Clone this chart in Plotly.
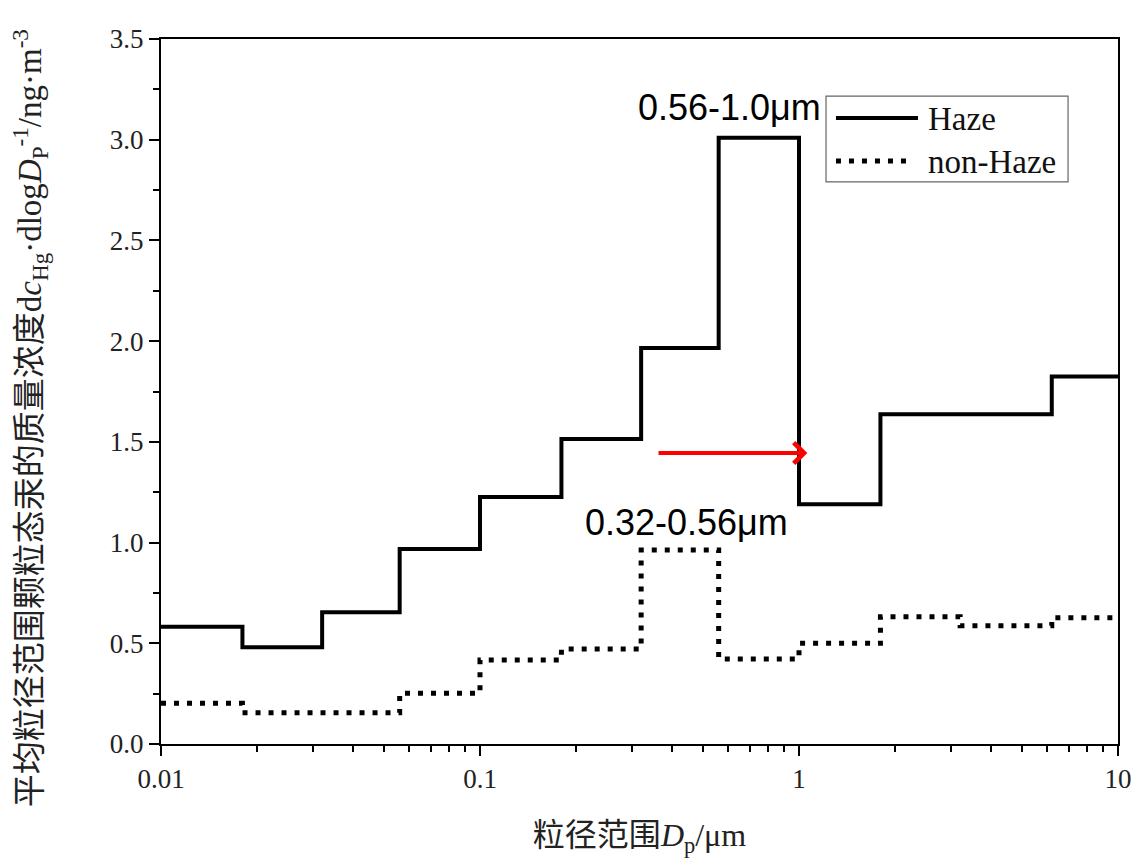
import plotly.graph_objects as go

# Size-bin edges (µm) of the cascade impactor stages
bin_edges = [0.01, 0.018, 0.032, 0.056, 0.1, 0.18, 0.32, 0.56, 1.0, 1.8, 3.2, 6.2, 10]

# dc_Hg/dlogDp per bin (ng·m^-3)
haze = [0.582, 0.480, 0.654, 0.968, 1.226, 1.514, 1.966, 3.010, 1.190, 1.637, 1.637, 1.824]
non_haze = [0.202, 0.155, 0.155, 0.252, 0.417, 0.472, 0.963, 0.422, 0.500, 0.632, 0.587, 0.627]

series_names = ["Haze", "non-Haze"]

y_ticks = [0.0, 0.5, 1.0, 1.5, 2.0, 2.5, 3.0, 3.5]
x_ticks = [0.01, 0.1, 1, 10]
x_tick_labels = ["0.01", "0.1", "1", "10"]
x_minor = [k * 10.0 ** e for e in (-2, -1, 0) for k in range(2, 10)]

SERIF = "Liberation Serif, Times New Roman, serif"
SANS = "Liberation Sans, Arial, sans-serif"
TITLE_FONT = "Liberation Serif, Noto Sans CJK SC, serif"

HAZE_STYLE = dict(color="black", width=4)
NON_HAZE_STYLE = dict(color="black", width=5, dash="5px,8px")


def step_y(values):
    # repeat the last level so the 'hv' step reaches the final edge
    return values + [values[-1]]


fig = go.Figure()
fig.add_trace(go.Scatter(
    x=bin_edges, y=step_y(haze), name=series_names[0], mode="lines",
    line=dict(shape="hv", **HAZE_STYLE), showlegend=False,
))
fig.add_trace(go.Scatter(
    x=bin_edges, y=step_y(non_haze), name=series_names[1], mode="lines",
    line=dict(shape="hv", **NON_HAZE_STYLE), showlegend=False,
))

# labels for the peak bins
fig.add_annotation(x=-0.217, y=3.158, xref="x", yref="y", text="0.56-1.0μm",
                   showarrow=False, font=dict(family=SANS, size=36, color="black"))
fig.add_annotation(x=-0.353, y=1.10, xref="x", yref="y", text="0.32-0.56μm",
                   showarrow=False, font=dict(family=SANS, size=36, color="black"))

# red arrow marking the shift of the peak
fig.add_annotation(x=0.026, y=1.445, ax=-0.445, ay=1.445, xref="x", yref="y",
                   axref="x", ayref="y", text="", showarrow=True,
                   arrowhead=4, arrowsize=1.0, arrowwidth=4, arrowcolor="#ff0000")

# rotated y-axis title
fig.add_annotation(
    x=-0.137, y=0.462, xref="paper", yref="paper", textangle=-90,
    text="平均粒径范围颗粒态汞的质量浓度d<i>c</i><sub>Hg</sub>·dlog<i>D</i><sub>P</sub><sup>-1</sup>/ng·m<sup>-3</sup>",
    showarrow=False, xanchor="center", yanchor="middle",
    font=dict(family=TITLE_FONT, size=33, color="#222"),
)

# framed key in the upper right of the plot
fig.add_shape(type="rect", xref="paper", yref="paper",
              x0=0.6949, x1=0.9478, y0=0.7972, y1=0.9191,
              line=dict(color="#666", width=1.2), fillcolor="white", layer="above")
fig.add_shape(type="line", xref="paper", yref="paper",
              x0=0.7053, x1=0.791, y0=0.888, y1=0.888,
              line=HAZE_STYLE, layer="above")
fig.add_shape(type="line", xref="paper", yref="paper",
              x0=0.7053, x1=0.7806, y0=0.827, y1=0.827,
              line=NON_HAZE_STYLE, layer="above")
for name, ypos in zip(series_names, (0.887, 0.826)):
    fig.add_annotation(x=0.7995, y=ypos, xref="paper", yref="paper", text=name,
                       showarrow=False, xanchor="left", yanchor="middle",
                       font=dict(family=SERIF, size=33, color="#111"))

fig.update_layout(
    width=1134, height=862,
    margin=dict(l=161, r=16, t=39, b=118),
    paper_bgcolor="white", plot_bgcolor="white",
    showlegend=False,
)

fig.update_xaxes(
    type="log", range=[-2, 1], automargin=False,
    tickvals=x_ticks, ticktext=x_tick_labels,
    ticks="outside", ticklen=10, tickwidth=2, tickcolor="black",
    minor=dict(tickvals=x_minor, ticks="outside", ticklen=6, tickwidth=2, tickcolor="black"),
    showline=True, linewidth=2, linecolor="black", mirror=True,
    showgrid=False, zeroline=False,
    tickfont=dict(family=SERIF, size=27, color="#222"),
    title=dict(text="粒径范围<i>D</i><sub>p</sub>/μm", standoff=30,
               font=dict(family=TITLE_FONT, size=32, color="#222")),
)
fig.update_yaxes(
    range=[0, 3.5], automargin=False,
    tickvals=y_ticks, ticktext=[f"{v:.1f}" for v in y_ticks],
    ticks="outside", ticklen=10, tickwidth=2, tickcolor="black",
    minor=dict(ticks="outside", ticklen=6, tickwidth=2, tickcolor="black", dtick=0.25),
    showline=True, linewidth=2, linecolor="black", mirror=True,
    showgrid=False, zeroline=False,
    tickfont=dict(family=SERIF, size=27, color="#222"),
)

fig.write_html("out.html")
